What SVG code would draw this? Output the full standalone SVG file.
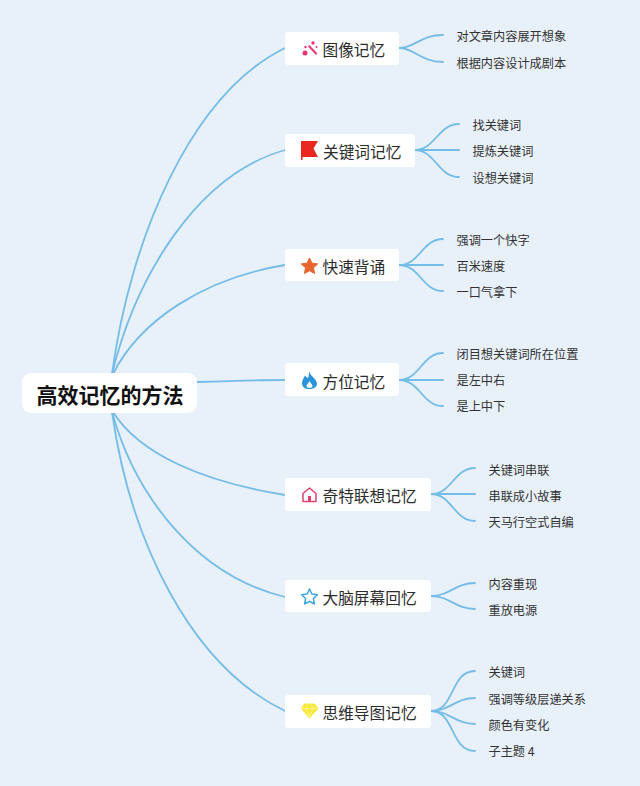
<svg xmlns="http://www.w3.org/2000/svg" width="640" height="786" viewBox="0 0 640 786">
<style>
text{font-family:"Noto Sans CJK SC","Liberation Sans",sans-serif;fill:#2b2b2b}
.c{font-size:15.7px}
.s{font-size:12.2px;fill:#333}
.r{font-size:21px;font-weight:700;fill:#111}
.b{fill:#fff}
#connectors path{fill:none;stroke:#74bde8;stroke-width:1.8;stroke-linecap:round}
</style>
<rect width="640" height="786" fill="#e8f0f9"/>
<g id="connectors">
<path d="M112 374C130 240 190 95 285 48"/>
<path d="M112 374C135 280 195 175 285 150"/>
<path d="M113 374C140 320 205 278 285 265"/>
<path d="M197 382C225 381 255 380 285 380"/>
<path d="M113 412C140 455 205 482 285 495"/>
<path d="M112 412C135 495 195 575 285 597"/>
<path d="M112 412C130 540 190 665 285 711"/>
<path d="M399 48C415 48 420 35 443 35"/>
<path d="M399 48C415 48 420 62 443 62"/>
<path d="M415 150C435 150 438 124 459 124"/>
<path d="M415 150L459 150"/>
<path d="M415 150C435 150 438 177 459 177"/>
<path d="M399 265C420 265 422 239 443 239"/>
<path d="M399 265L443 265"/>
<path d="M399 265C420 265 422 291 443 291"/>
<path d="M399 380C420 380 422 353 443 353"/>
<path d="M399 380L443 380"/>
<path d="M399 380C420 380 422 406 443 406"/>
<path d="M431 494C452 494 454 468 475 468"/>
<path d="M431 494L475 494"/>
<path d="M431 494C452 494 454 521 475 521"/>
<path d="M431 596C450 596 455 583 475 583"/>
<path d="M431 596C450 596 455 609 475 609"/>
<path d="M431 711C455 711 450 671 475 671"/>
<path d="M431 711C450 711 455 698 475 698"/>
<path d="M431 711C450 711 455 724 475 724"/>
<path d="M431 711C455 711 450 751 475 751"/>
</g>
<g id="root"><rect class="b" x="22" y="373" width="175" height="40" rx="9"/><text class="r" x="36.500" y="402.500">高效记忆的方法</text></g>
<g id="n1"><rect class="b" x="285" y="32" width="114" height="33" rx="3"/>
<g fill="#e8356d"><circle cx="305" cy="53" r="2.500"/><circle cx="313" cy="43" r="1.700"/><circle cx="316.500" cy="47" r="1"/><circle cx="305.500" cy="47" r="1.200"/><path d="M308 46.500l1.400-1.400 8 8.500-1.400 1.400z"/></g>
<text class="c" x="322.500" y="55.500">图像记忆</text></g>
<g id="n2"><rect class="b" x="285" y="134" width="130" height="33" rx="3"/>
<path d="M301 141H318L313.500 148.500 318 157H302.500V160H301z" fill="#e8281e"/>
<text class="c" x="323" y="157.500">关键词记忆</text></g>
<g id="n3"><rect class="b" x="285" y="249" width="114" height="32" rx="3"/>
<path d="M309.500 258l2.500 5.200 5.700.7-4.200 3.900 1.100 5.700-5.100-2.800-5.100 2.800 1.100-5.700-4.200-3.900 5.700-.7z" fill="#e8652d" stroke="#e8652d" stroke-linejoin="round"/>
<text class="c" x="322.500" y="272.500">快速背诵</text></g>
<g id="n4"><rect class="b" x="285" y="363" width="114" height="33" rx="3"/>
<path d="M309 371C310 376 317 379 317 384C317 387 313 389 309.500 389C305 389 302 387 302 383C302 380 304 378 305 375.500C306 377 307 378 308 378C309 376 309 373 309 371ZM309.500 381C309 383 306.500 384 306.500 386C306.500 387 308 388 309.500 388C311 388 312.500 387 312.500 386C312.500 384 310 383 309.500 381Z" fill="#2a93d9" fill-rule="evenodd"/>
<text class="c" x="322.500" y="387.500">方位记忆</text></g>
<g id="n5"><rect class="b" x="285" y="478" width="146" height="33" rx="3"/>
<path d="M303 493.500L309.500 488 316 493.500V501.500H303Z" fill="none" stroke="#e2406e" stroke-width="1.500" stroke-linejoin="round"/><rect x="308" y="496" width="3" height="5.500" fill="#e2406e"/>
<text class="c" x="322.500" y="501.500">奇特联想记忆</text></g>
<g id="n6"><rect class="b" x="285" y="580" width="146" height="32" rx="3"/>
<path d="M309.500 589l2.400 5 5.500.7-4 3.800 1 5.500-4.900-2.700-4.900 2.700 1-5.500-4-3.800 5.500-.7z" fill="none" stroke="#3aa5e0" stroke-width="1.500" stroke-linejoin="round"/>
<text class="c" x="322.500" y="603.500">大脑屏幕回忆</text></g>
<g id="n7"><rect class="b" x="285" y="695" width="146" height="33" rx="3"/>
<path d="M304.500 704H314.500L318 708.500 309.500 718 301.500 708.500Z" fill="#f7e83c" stroke="#f7e83c" stroke-linejoin="round"/>
<path d="M302 708.500H317.500M306 708.500L309.500 717 313 708.500M306 708.500L308 704.500M313 708.500L311 704.500" fill="none" stroke="#fdf7a8" stroke-width=".7"/>
<text class="c" x="322.500" y="718.500">思维导图记忆</text></g>
<g id="l">
<text class="s" x="456.500" y="41">对文章内容展开想象</text>
<text class="s" x="456.500" y="68">根据内容设计成剧本</text>
<text class="s" x="472.500" y="130">找关键词</text>
<text class="s" x="472.500" y="156">提炼关键词</text>
<text class="s" x="472.500" y="183">设想关键词</text>
<text class="s" x="456.500" y="245">强调一个快字</text>
<text class="s" x="456.500" y="271">百米速度</text>
<text class="s" x="456.500" y="297">一口气拿下</text>
<text class="s" x="456.500" y="359">闭目想关键词所在位置</text>
<text class="s" x="456.500" y="385">是左中右</text>
<text class="s" x="456.500" y="411">是上中下</text>
<text class="s" x="488.500" y="475">关键词串联</text>
<text class="s" x="488.500" y="501">串联成小故事</text>
<text class="s" x="488.500" y="527">天马行空式自编</text>
<text class="s" x="488.500" y="589">内容重现</text>
<text class="s" x="488.500" y="615">重放电源</text>
<text class="s" x="488.500" y="677">关键词</text>
<text class="s" x="488.500" y="704">强调等级层递关系</text>
<text class="s" x="488.500" y="730">颜色有变化</text>
<text class="s" x="488.500" y="756">子主题 4</text>
</g>
</svg>
